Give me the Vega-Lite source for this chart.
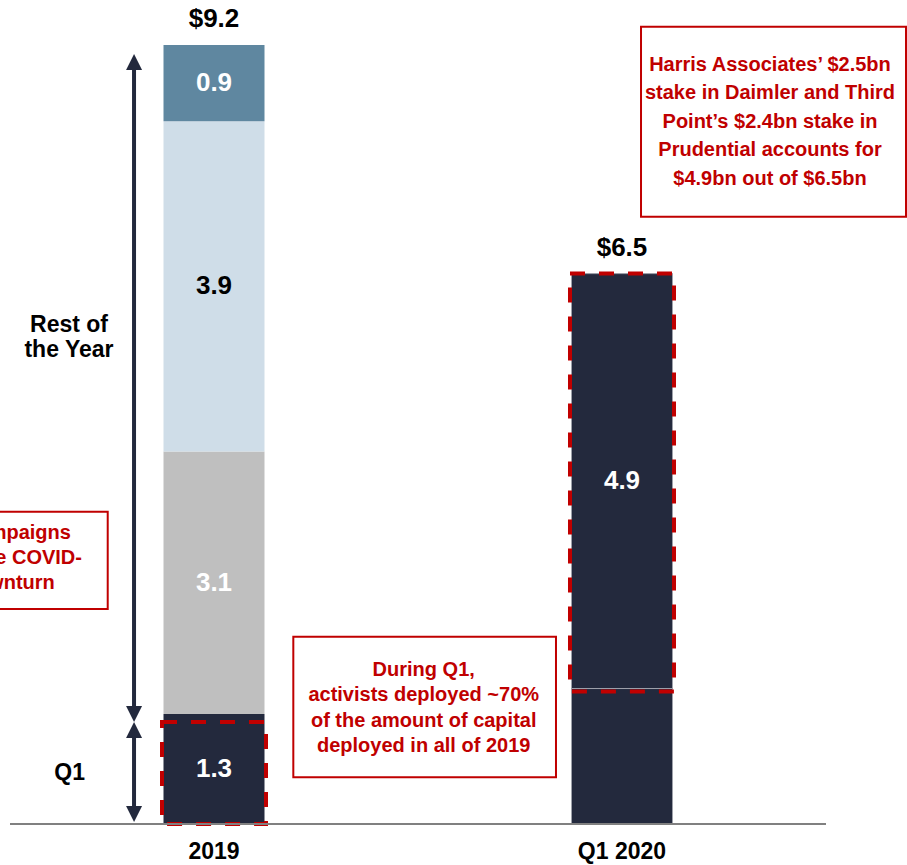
{
  "$schema": "https://vega.github.io/schema/vega-lite/v6.json",
  "width": 907,
  "height": 865,
  "autosize": {"type": "none"},
  "padding": 0,
  "background": "white",
  "config": {
    "view": {"stroke": null},
    "text": {"font": "Liberation Sans", "fontWeight": "bold"}
  },
  "datasets": {
    "capital": [
      {"period": "2019", "slot": 0, "segment": "2019 Q1", "order": 1, "value": 1.3},
      {"period": "2019", "slot": 0, "segment": "2019 Q2", "order": 2, "value": 3.1},
      {"period": "2019", "slot": 0, "segment": "2019 Q3", "order": 3, "value": 3.9},
      {"period": "2019", "slot": 0, "segment": "2019 Q4", "order": 4, "value": 0.9},
      {"period": "Q1 2020", "slot": 1, "segment": "Q1 2020 other", "order": 1, "value": 1.6},
      {"period": "Q1 2020", "slot": 1, "segment": "Q1 2020 Daimler + Prudential", "order": 2, "value": 4.9}
    ]
  },
  "layer": [
    {
      "data": {"name": "capital"},
      "transform": [
        {"stack": "value", "groupby": ["period"], "sort": [{"field": "order", "order": "ascending"}], "as": ["start", "end"]}
      ],
      "mark": {"type": "bar", "width": 101, "stroke": "#9ea1ab"},
      "encoding": {
        "x": {"field": "slot", "type": "quantitative", "scale": {"domain": [-0.52451, 1.69853], "nice": false, "zero": false, "padding": 0}, "axis": null},
        "y": {"field": "start", "type": "quantitative", "scale": {"domain": [-0.48421, 9.73144], "nice": false, "zero": false, "padding": 0}, "axis": null},
        "y2": {"field": "end"},
        "color": {
          "field": "segment", "type": "nominal", "legend": null,
          "scale": {
            "domain": ["2019 Q1", "2019 Q2", "2019 Q3", "2019 Q4", "Q1 2020 other", "Q1 2020 Daimler + Prudential"],
            "range": ["#23293d", "#bfbfbf", "#cfdde8", "#5f87a0", "#23293d", "#23293d"]
          }
        },
        "strokeWidth": {"condition": {"test": "datum.period === 'Q1 2020'", "value": 1}, "value": 0}
      }
    },
    {
      "data": {"name": "capital"},
      "transform": [
        {"stack": "value", "groupby": ["period"], "sort": [{"field": "order", "order": "ascending"}], "as": ["start", "end"]},
        {"filter": "datum.segment === '2019 Q1'"}
      ],
      "mark": {"type": "bar", "width": 104, "fillOpacity": 0, "stroke": "#c00000", "strokeWidth": 4, "strokeDash": [15, 14], "y2Offset": 8},
      "encoding": {
        "x": {"field": "slot", "type": "quantitative", "axis": null},
        "y": {"field": "start", "type": "quantitative", "axis": null},
        "y2": {"field": "end"}
      }
    },
    {
      "data": {"name": "capital"},
      "transform": [
        {"stack": "value", "groupby": ["period"], "sort": [{"field": "order", "order": "ascending"}], "as": ["start", "end"]},
        {"filter": "datum.segment === 'Q1 2020 Daimler + Prudential'"}
      ],
      "mark": {"type": "bar", "width": 104, "fillOpacity": 0, "stroke": "#c00000", "strokeWidth": 4, "strokeDash": [15, 14], "yOffset": 3},
      "encoding": {
        "x": {"field": "slot", "type": "quantitative", "axis": null},
        "y": {"field": "start", "type": "quantitative", "axis": null},
        "y2": {"field": "end"}
      }
    },
    {
      "data": {"values": [{}]},
      "mark": {"type": "rule", "color": "#808080", "strokeWidth": 2},
      "encoding": {
        "x": {"datum": -0.5, "type": "quantitative", "axis": null},
        "x2": {"datum": 1.5},
        "y": {"datum": 0, "type": "quantitative", "axis": null}
      }
    },
    {
      "data": {"name": "capital"},
      "transform": [
        {"stack": "value", "groupby": ["period"], "sort": [{"field": "order", "order": "ascending"}], "as": ["start", "end"]},
        {"filter": "datum.segment !== 'Q1 2020 other'"},
        {"calculate": "(datum.start + datum.end) / 2", "as": "mid"}
      ],
      "mark": {"type": "text", "fontSize": 26, "align": "center", "baseline": "middle"},
      "encoding": {
        "x": {"field": "slot", "type": "quantitative", "axis": null},
        "y": {"field": "mid", "type": "quantitative", "axis": null},
        "text": {"field": "value", "type": "quantitative", "format": ".1f"},
        "color": {"condition": {"test": "datum.segment === '2019 Q3'", "value": "#000000"}, "value": "#ffffff"}
      }
    },
    {
      "data": {"name": "capital"},
      "transform": [
        {"aggregate": [{"op": "sum", "field": "value", "as": "total"}], "groupby": ["period", "slot"]}
      ],
      "mark": {"type": "text", "fontSize": 26, "align": "center", "baseline": "middle", "dy": -26, "color": "#000000"},
      "encoding": {
        "x": {"field": "slot", "type": "quantitative", "axis": null},
        "y": {"field": "total", "type": "quantitative", "axis": null},
        "text": {"field": "total", "type": "quantitative", "format": "$.1f"}
      }
    },
    {
      "data": {"name": "capital"},
      "transform": [
        {"aggregate": [{"op": "count", "as": "n"}], "groupby": ["period", "slot"]}
      ],
      "mark": {"type": "text", "fontSize": 23, "align": "center", "baseline": "middle", "color": "#000000"},
      "encoding": {
        "x": {"field": "slot", "type": "quantitative", "axis": null},
        "y": {"datum": -0.331, "type": "quantitative", "axis": null},
        "text": {"field": "period"}
      }
    },
    {
      "data": {"values": [{"label": "Rest of\nthe Year"}]},
      "mark": {"type": "text", "fontSize": 23, "align": "center", "baseline": "middle", "lineBreak": "\n", "lineHeight": 25, "color": "#000000"},
      "encoding": {
        "x": {"datum": -0.3554, "type": "quantitative", "axis": null},
        "y": {"datum": 5.893, "type": "quantitative", "axis": null},
        "text": {"field": "label"}
      }
    },
    {
      "data": {"values": [{"label": "Q1"}]},
      "mark": {"type": "text", "fontSize": 23, "align": "center", "baseline": "middle", "color": "#000000"},
      "encoding": {
        "x": {"datum": -0.3537, "type": "quantitative", "axis": null},
        "y": {"datum": 0.602, "type": "quantitative", "axis": null},
        "text": {"field": "label"}
      }
    },
    {
      "data": {"values": [{}]},
      "mark": {"type": "rule", "color": "#23293d", "strokeWidth": 4},
      "encoding": {
        "x": {"datum": -0.196, "type": "quantitative", "axis": null},
        "y": {"datum": 9.0, "type": "quantitative", "axis": null},
        "y2": {"datum": 1.3}
      }
    },
    {
      "data": {"values": [{}]},
      "mark": {"type": "rule", "color": "#23293d", "strokeWidth": 4},
      "encoding": {
        "x": {"datum": -0.196, "type": "quantitative", "axis": null},
        "y": {"datum": 1.11, "type": "quantitative", "axis": null},
        "y2": {"datum": 0.118}
      }
    },
    {
      "data": {"values": [{}]},
      "mark": {"type": "point", "shape": "M0,-1L1,1L-1,1Z", "size": 256, "filled": true, "opacity": 1, "color": "#23293d"},
      "encoding": {
        "x": {"datum": -0.196, "type": "quantitative", "axis": null},
        "y": {"datum": 9.0, "type": "quantitative", "axis": null}
      }
    },
    {
      "data": {"values": [{}]},
      "mark": {"type": "point", "shape": "M0,1L1,-1L-1,-1Z", "size": 256, "filled": true, "opacity": 1, "color": "#23293d"},
      "encoding": {
        "x": {"datum": -0.196, "type": "quantitative", "axis": null},
        "y": {"datum": 1.299, "type": "quantitative", "axis": null}
      }
    },
    {
      "data": {"values": [{}]},
      "mark": {"type": "point", "shape": "M0,-1L1,1L-1,1Z", "size": 256, "filled": true, "opacity": 1, "color": "#23293d"},
      "encoding": {
        "x": {"datum": -0.196, "type": "quantitative", "axis": null},
        "y": {"datum": 1.11, "type": "quantitative", "axis": null}
      }
    },
    {
      "data": {"values": [{}]},
      "mark": {"type": "point", "shape": "M0,1L1,-1L-1,-1Z", "size": 256, "filled": true, "opacity": 1, "color": "#23293d"},
      "encoding": {
        "x": {"datum": -0.196, "type": "quantitative", "axis": null},
        "y": {"datum": 0.118, "type": "quantitative", "axis": null}
      }
    },
    {
      "data": {"values": [{}]},
      "mark": {"type": "rect", "fillOpacity": 0, "stroke": "#c00000", "strokeWidth": 2},
      "encoding": {
        "x": {"datum": 1.0466, "type": "quantitative", "axis": null},
        "x2": {"datum": 1.6961},
        "y": {"datum": 9.416, "type": "quantitative", "axis": null},
        "y2": {"datum": 7.172}
      }
    },
    {
      "data": {"values": [{"note": "Harris Associates’ $2.5bn\nstake in Daimler and Third\nPoint’s $2.4bn stake in\nPrudential accounts for\n$4.9bn out of $6.5bn"}]},
      "mark": {"type": "text", "fontSize": 20, "align": "center", "baseline": "middle", "lineBreak": "\n", "lineHeight": 28.5, "color": "#c00000"},
      "encoding": {
        "x": {"datum": 1.3627, "type": "quantitative", "axis": null},
        "y": {"datum": 8.964, "type": "quantitative", "axis": null},
        "text": {"field": "note"}
      }
    },
    {
      "data": {"values": [{}]},
      "mark": {"type": "rect", "fillOpacity": 0, "stroke": "#c00000", "strokeWidth": 2},
      "encoding": {
        "x": {"datum": 0.1944, "type": "quantitative", "axis": null},
        "x2": {"datum": 0.8382},
        "y": {"datum": 2.212, "type": "quantitative", "axis": null},
        "y2": {"datum": 0.5515}
      }
    },
    {
      "data": {"values": [{"note": "During Q1,\nactivists deployed ~70%\nof the amount of capital\ndeployed in all of 2019"}]},
      "mark": {"type": "text", "fontSize": 20, "align": "center", "baseline": "middle", "lineBreak": "\n", "lineHeight": 25.3, "color": "#c00000"},
      "encoding": {
        "x": {"datum": 0.514, "type": "quantitative", "axis": null},
        "y": {"datum": 1.819, "type": "quantitative", "axis": null},
        "text": {"field": "note"}
      }
    },
    {
      "data": {"values": [{}]},
      "mark": {"type": "rect", "fillOpacity": 0, "stroke": "#c00000", "strokeWidth": 2},
      "encoding": {
        "x": {"datum": -0.8, "type": "quantitative", "axis": null},
        "x2": {"datum": -0.2605},
        "y": {"datum": 3.688, "type": "quantitative", "axis": null},
        "y2": {"datum": 2.539}
      }
    },
    {
      "data": {"values": [{"note": "New campaigns\nduring the COVID-\n19 downturn"}]},
      "mark": {"type": "text", "fontSize": 20, "align": "center", "baseline": "middle", "lineBreak": "\n", "lineHeight": 25, "color": "#c00000"},
      "encoding": {
        "x": {"datum": -0.536, "type": "quantitative", "axis": null},
        "y": {"datum": 3.433, "type": "quantitative", "axis": null},
        "text": {"field": "note"}
      }
    }
  ]
}
